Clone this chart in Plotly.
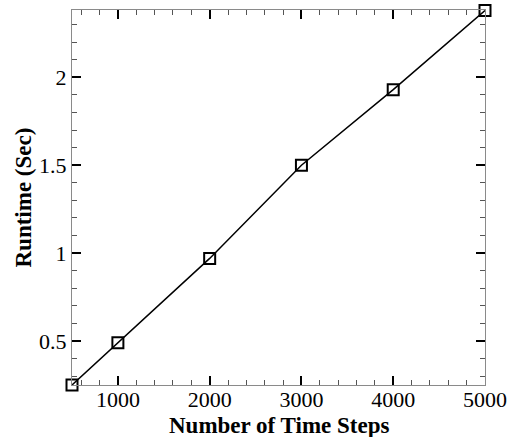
import plotly.graph_objects as go

time_steps = [500, 1000, 2000, 3000, 4000, 5000]
runtime_sec = [0.25, 0.49, 0.97, 1.50, 1.93, 2.38]
x_ticks = [1000, 2000, 3000, 4000, 5000]
y_ticks = [0.5, 1, 1.5, 2]
y_labels = ["0.5", "1", "1.5", "2"]
x_title = "Number of Time Steps"
y_title = "Runtime (Sec)"

font = "Liberation Serif"

fig = go.Figure()
fig.add_trace(go.Scatter(
    x=time_steps, y=runtime_sec, mode="lines+markers",
    line=dict(color="black", width=1.5),
    marker=dict(symbol="square-open", size=11, color="black", line=dict(width=2)),
    cliponaxis=False, showlegend=False,
))

axis_common = dict(
    showgrid=False, zeroline=False, showline=True, linecolor="#8a8a8a", linewidth=1,
    mirror="ticks", ticks="inside", ticklen=9, tickwidth=2, tickcolor="black",
    tickfont=dict(family=font, size=22, color="black"), automargin=False,
)

fig.update_xaxes(
    range=[500, 5000], tickvals=x_ticks, ticktext=[str(v) for v in x_ticks],
    ticklabelstandoff=-5,
    minor=dict(dtick=200, tick0=0, ticks="inside", ticklen=5, tickwidth=1, tickcolor="#555555"),
    **axis_common,
)
fig.update_yaxes(
    range=[0.25, 2.383], tickvals=y_ticks, ticktext=y_labels,
    minor=dict(dtick=0.1, tick0=0, ticks="inside", ticklen=5, tickwidth=1, tickcolor="#555555"),
    **axis_common,
)

fig.add_annotation(
    text=f"<b>{x_title}</b>", xref="paper", yref="paper", x=0.5, y=0,
    xanchor="center", yanchor="middle", yshift=-40, showarrow=False,
    font=dict(family=font, size=23, color="black"),
)
fig.add_annotation(
    text=f"<b>{y_title}</b>", xref="paper", yref="paper", x=0, y=0.5,
    xanchor="center", yanchor="middle", xshift=-49, textangle=-90, showarrow=False,
    font=dict(family=font, size=23, color="black"),
)

fig.update_layout(
    width=510, height=437,
    margin=dict(l=72, r=25, t=10, b=52),
    plot_bgcolor="white", paper_bgcolor="white",
)

fig.write_html("out.html")
